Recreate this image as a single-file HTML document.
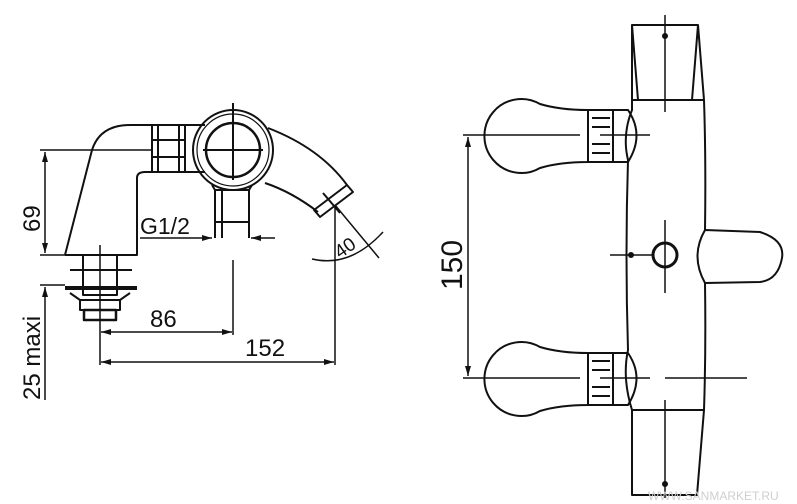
<!DOCTYPE html>
<html><head><meta charset="utf-8"><style>
html,body{margin:0;padding:0;background:#fff;width:797px;height:504px;overflow:hidden}
svg{display:block}
text{font-family:"Liberation Sans",sans-serif;fill:#111}
</style></head><body>
<svg width="797" height="504" viewBox="0 0 797 504" xmlns="http://www.w3.org/2000/svg">
<defs>
<marker id="a" viewBox="0 0 10 6" refX="10" refY="3" markerWidth="10" markerHeight="6" orient="auto-start-reverse" markerUnits="userSpaceOnUse"><path d="M0,0 L10,3 L0,6z" fill="#111"/></marker>
</defs>
<g fill="none" stroke="#111" stroke-width="2" stroke-linejoin="round">
<!-- LEFT VIEW -->
<path d="M65,255 L92,150 Q100,125 130,125 L152,125"/>
<path d="M65,255 L137,255 L137,178 Q137,172 145,172 L152,172"/>
<rect x="152" y="125" width="33" height="47"/>
<line x1="158" y1="125" x2="158" y2="172"/><line x1="179" y1="125" x2="179" y2="172"/>
<line x1="152" y1="140" x2="185" y2="140"/><line x1="152" y1="157" x2="185" y2="157"/>
<path d="M185,125 L205,125 M185,172 L205,172"/>
<circle cx="233" cy="150" r="40"/>
<circle cx="233" cy="150" r="36" stroke-width="1.2"/>
<circle cx="233" cy="150" r="27" stroke-width="2.5"/>
<line x1="233" y1="103" x2="233" y2="180"/><line x1="203" y1="150" x2="263" y2="150"/>
<path d="M212,185 L215,190 L215,238 M252,185 L249,190 L249,238 M215,190 L249,190 M215,222 L249,222 M222,190 L222,238"/>
<path d="M268,128 Q320,148 347,185"/>
<path d="M265,183 Q292,192 318,212"/>
<path d="M347,185 L353,192 L320,217 L314,210 Z"/>
<line x1="323" y1="193" x2="340" y2="213"/>
<line x1="70" y1="270" x2="132" y2="270"/>
<rect x="83" y="255" width="34" height="40"/>
<line x1="100" y1="245" x2="100" y2="365" stroke-width="1.5"/>
<path d="M65,288 L137,288" stroke-width="4"/>
<path d="M70,293 L80,300 L120,300 L130,293"/>
<rect x="80" y="300" width="40" height="10"/>
<rect x="84" y="310" width="32" height="10" stroke-width="2.5"/>
<g stroke-width="1.5">
<line x1="40" y1="150" x2="152" y2="150"/>
<line x1="45" y1="152" x2="45" y2="253" marker-start="url(#a)" marker-end="url(#a)"/>
<line x1="40" y1="255" x2="65" y2="255"/>
<line x1="40" y1="285" x2="65" y2="285"/>
<line x1="45" y1="287" x2="45" y2="400" marker-start="url(#a)"/>
<line x1="140" y1="238" x2="212" y2="238" marker-end="url(#a)"/>
<line x1="251" y1="238" x2="275" y2="238" marker-start="url(#a)"/>
<line x1="233" y1="260" x2="233" y2="335"/>
<line x1="101" y1="332" x2="232" y2="332" marker-start="url(#a)" marker-end="url(#a)"/>
<line x1="101" y1="362" x2="334" y2="362" marker-start="url(#a)" marker-end="url(#a)"/>
<line x1="335" y1="205" x2="335" y2="365"/>
<line x1="335" y1="205" x2="379" y2="258"/>
<path d="M312,259 Q350,268 383,232"/>
</g>
<!-- RIGHT VIEW -->
<path d="M632,25 L698,25 L692,100 L638,100 Z"/>
<path d="M698,25 L704,100 M692,100 L704,100"/>
<path d="M632,25 L632,100 L638,100"/>
<path d="M632,100 L632,110 Q622,135 628,160 Q625,255 628,350 Q622,378 632,410"/>
<path d="M704,100 Q706,160 705,230 M705,283 Q706,350 704,410"/>
<path d="M632,410 L632,495 L697,495 L704,410 Z"/>
<line x1="632" y1="410" x2="704" y2="410"/>
<g id="k">
<path d="M540,104 Q560,110 588,110 L588,162 Q560,162 540,168 A37,37 0 1 1 540,104 Z"/>
<rect x="588" y="110" width="25" height="52"/>
<line x1="592" y1="118" x2="610" y2="118"/><line x1="592" y1="127" x2="610" y2="127"/><line x1="592" y1="144" x2="610" y2="144"/><line x1="592" y1="153" x2="610" y2="153"/>
<path d="M613,110 L628,110 Q645,135 628,162 L613,162"/>
</g>
<use href="#k" transform="translate(0,243)"/>
<circle cx="665" cy="255" r="12" stroke-width="3"/>
<path d="M705,230 L760,232 Q785,240 782,258 Q778,280 760,282 L705,283 Q690,256 705,230 Z"/>
<g stroke-width="1.5">
<line x1="665" y1="15" x2="665" y2="112"/>
<line x1="665" y1="220" x2="665" y2="293"/>
<line x1="610" y1="255" x2="652" y2="255"/>
<line x1="665" y1="400" x2="665" y2="498"/>
<line x1="463" y1="135" x2="580" y2="135"/>
<line x1="463" y1="378" x2="580" y2="378"/>
<line x1="600" y1="135" x2="650" y2="135"/>
<line x1="600" y1="378" x2="650" y2="378"/>
<line x1="665" y1="378" x2="747" y2="378"/>
<line x1="468" y1="137" x2="468" y2="376" marker-start="url(#a)" marker-end="url(#a)"/>
</g>
</g>
<circle cx="665" cy="36" r="3" fill="#111"/><circle cx="665" cy="484" r="3" fill="#111"/><circle cx="631" cy="255" r="3" fill="#111"/>
<text x="140" y="234" font-size="23">G1/2</text>
<text x="150" y="327" font-size="24">86</text>
<text x="245" y="356" font-size="24">152</text>
<text transform="translate(40,232) rotate(-90)" font-size="24">69</text>
<text transform="translate(40,400) rotate(-90)" font-size="24">25 maxi</text>
<text transform="translate(462,290) rotate(-90)" font-size="30">150</text>
<text transform="translate(340,259) rotate(-35)" font-size="19">40</text>
<text x="648" y="500" font-size="12" style="fill:#cfcfcf">WWW.SANMARKET.RU</text>
</svg>
</body></html>
